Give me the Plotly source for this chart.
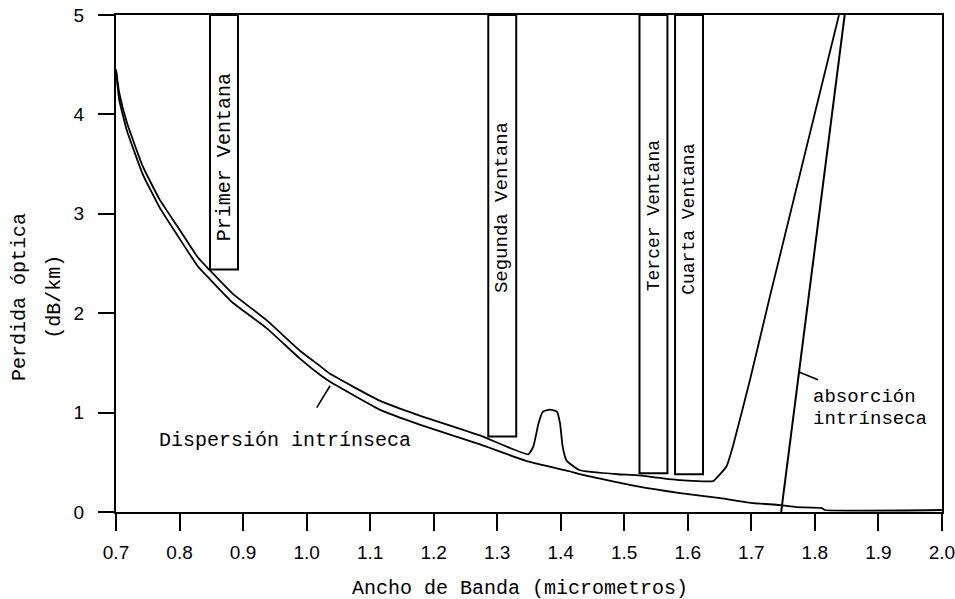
import plotly.graph_objects as go

# ---- data ----
total_x = [0.700, 0.705, 0.717, 0.742, 0.769, 0.796, 0.829, 0.848, 0.883, 0.937, 0.990,
           1.021, 1.037, 1.115, 1.147, 1.178, 1.273, 1.349, 1.357, 1.365, 1.372, 1.383,
           1.394, 1.399, 1.403, 1.409, 1.420, 1.430, 1.490, 1.519, 1.588, 1.640, 1.645,
           1.661, 1.671, 1.698, 1.729, 1.838]
total_y = [4.45, 4.22, 3.92, 3.48, 3.14, 2.88, 2.56, 2.43, 2.20, 1.93, 1.62,
           1.47, 1.39, 1.12, 1.04, 0.97, 0.77, 0.58, 0.66, 0.89, 1.01, 1.03,
           1.01, 0.89, 0.66, 0.52, 0.46, 0.42, 0.38, 0.37, 0.32, 0.31, 0.34,
           0.46, 0.66, 1.33, 2.16, 5.00]

disp_x = [0.700, 0.705, 0.717, 0.742, 0.769, 0.796, 0.829, 0.848, 0.883, 0.937, 0.990,
          1.021, 1.037, 1.115, 1.147, 1.178, 1.273, 1.348, 1.414, 1.430, 1.519, 1.588,
          1.651, 1.703, 1.745, 1.771, 1.811, 1.816, 2.000]
disp_y = [4.45, 4.15, 3.84, 3.40, 3.06, 2.79, 2.47, 2.34, 2.11, 1.85, 1.54,
          1.38, 1.31, 1.03, 0.95, 0.88, 0.68, 0.51, 0.41, 0.38, 0.26, 0.19,
          0.14, 0.09, 0.07, 0.05, 0.04, 0.02, 0.02]

absorption_x = [1.747, 1.847]
absorption_y = [0.0, 5.0]

window_names = ["Primer Ventana", "Segunda Ventana", "Tercer Ventana", "Cuarta Ventana"]
window_start = [0.848, 1.286, 1.524, 1.580]
window_end = [0.892, 1.330, 1.568, 1.624]
window_floor = [2.44, 0.76, 0.39, 0.38]
window_text_y = [3.57, 3.06, 2.98, 2.94]
window_text_size = [20, 19, 18, 18]

x_ticks = [0.7, 0.8, 0.9, 1.0, 1.1, 1.2, 1.3, 1.4, 1.5, 1.6, 1.7, 1.8, 1.9, 2.0]
x_tick_labels = ["0.7", "0.8", "0.9", "1.0", "1.1", "1.2", "1.3", "1.4", "1.5",
                 "1.6", "1.7", "1.8", "1.9", "2.0"]
y_ticks = [0, 1, 2, 3, 4, 5]
y_tick_labels = ["0", "1", "2", "3", "4", "5"]

x_title = "Ancho de Banda (micrometros)"
y_title_lines = ["Perdida óptica", "(dB/km)"]

disp_label = "Dispersión intrínseca"
disp_label_pos = (0.765, 0.72)
disp_leader = ([1.016, 1.037], [1.05, 1.27])
abs_label_lines = ["absorción", "intrínseca"]
abs_label_pos = (1.794, [1.16, 0.94])
abs_leader = ([1.774, 1.805], [1.41, 1.33])

MONO = "Liberation Mono, Courier New, monospace"
SANS = "Liberation Sans, Arial, sans-serif"

fig = go.Figure()
fig.add_trace(go.Scatter(x=total_x, y=total_y, mode="lines",
                         line=dict(color="black", width=1.8, shape="spline", smoothing=0.4),
                         hoverinfo="skip", showlegend=False))
fig.add_trace(go.Scatter(x=disp_x, y=disp_y, mode="lines",
                         line=dict(color="black", width=1.8, shape="spline", smoothing=0.4),
                         hoverinfo="skip", showlegend=False))
fig.add_trace(go.Scatter(x=absorption_x, y=absorption_y, mode="lines",
                         line=dict(color="black", width=2), hoverinfo="skip", showlegend=False))
fig.add_trace(go.Scatter(x=disp_leader[0], y=disp_leader[1], mode="lines",
                         line=dict(color="black", width=1.6), hoverinfo="skip", showlegend=False))
fig.add_trace(go.Scatter(x=abs_leader[0], y=abs_leader[1], mode="lines",
                         line=dict(color="black", width=1.6), hoverinfo="skip", showlegend=False))

shapes = []
annotations = []
for name, x0, x1, yb, ty, fs in zip(window_names, window_start, window_end,
                                     window_floor, window_text_y, window_text_size):
    shapes.append(dict(type="rect", xref="x", yref="y", x0=x0, x1=x1, y0=yb, y1=5,
                       line=dict(color="black", width=2), fillcolor="rgba(0,0,0,0)"))
    annotations.append(dict(x=(x0 + x1) / 2, y=ty, xref="x", yref="y", text=name,
                            showarrow=False, textangle=-90,
                            font=dict(family=MONO, size=fs, color="black")))

annotations.append(dict(x=disp_label_pos[0], y=disp_label_pos[1], xref="x", yref="y",
                        text=disp_label, showarrow=False, xanchor="left", yanchor="middle",
                        font=dict(family=MONO, size=20, color="black")))
for line_text, yy in zip(abs_label_lines, abs_label_pos[1]):
    annotations.append(dict(x=abs_label_pos[0], y=yy, xref="x", yref="y",
                            text=line_text, showarrow=False, xanchor="left", yanchor="middle",
                            font=dict(family=MONO, size=19, color="black")))

annotations.append(dict(x=0.489, y=-0.153, xref="paper", yref="paper", text=x_title,
                        showarrow=False, xanchor="center", yanchor="middle",
                        font=dict(family=MONO, size=20, color="black")))
for line_text, px in zip(y_title_lines, [-0.116, -0.074]):
    annotations.append(dict(x=px, y=0.433, xref="paper", yref="paper", text=line_text,
                            showarrow=False, textangle=-90, xanchor="center", yanchor="middle",
                            font=dict(family=MONO, size=20, color="black")))

fig.update_layout(
    width=955, height=599,
    margin=dict(l=116, r=13, t=15, b=87, autoexpand=False),
    paper_bgcolor="white", plot_bgcolor="white",
    shapes=shapes, annotations=annotations, showlegend=False,
    xaxis=dict(range=[0.7, 2.0002], tickvals=x_ticks, ticktext=x_tick_labels,
               showline=True, linecolor="black", linewidth=2, mirror=True,
               ticks="outside", ticklen=17, tickwidth=2, tickcolor="black",
               showgrid=False, zeroline=False, ticklabelstandoff=5, automargin=False,
               ticklabeloverflow="allow",
               tickfont=dict(family=SANS, size=19, color="black")),
    yaxis=dict(range=[0, 5], tickvals=y_ticks, ticktext=y_tick_labels,
               showline=True, linecolor="black", linewidth=2, mirror=True,
               ticks="outside", ticklen=16, tickwidth=2, tickcolor="black",
               showgrid=False, zeroline=False, ticklabelstandoff=10, automargin=False,
               ticklabeloverflow="allow",
               tickfont=dict(family=SANS, size=19, color="black")),
)

fig.write_html(
    "out.html",
    config={"displayModeBar": False},
    post_script="document.body.style.margin='0';document.documentElement.style.overflow='hidden';",
)
